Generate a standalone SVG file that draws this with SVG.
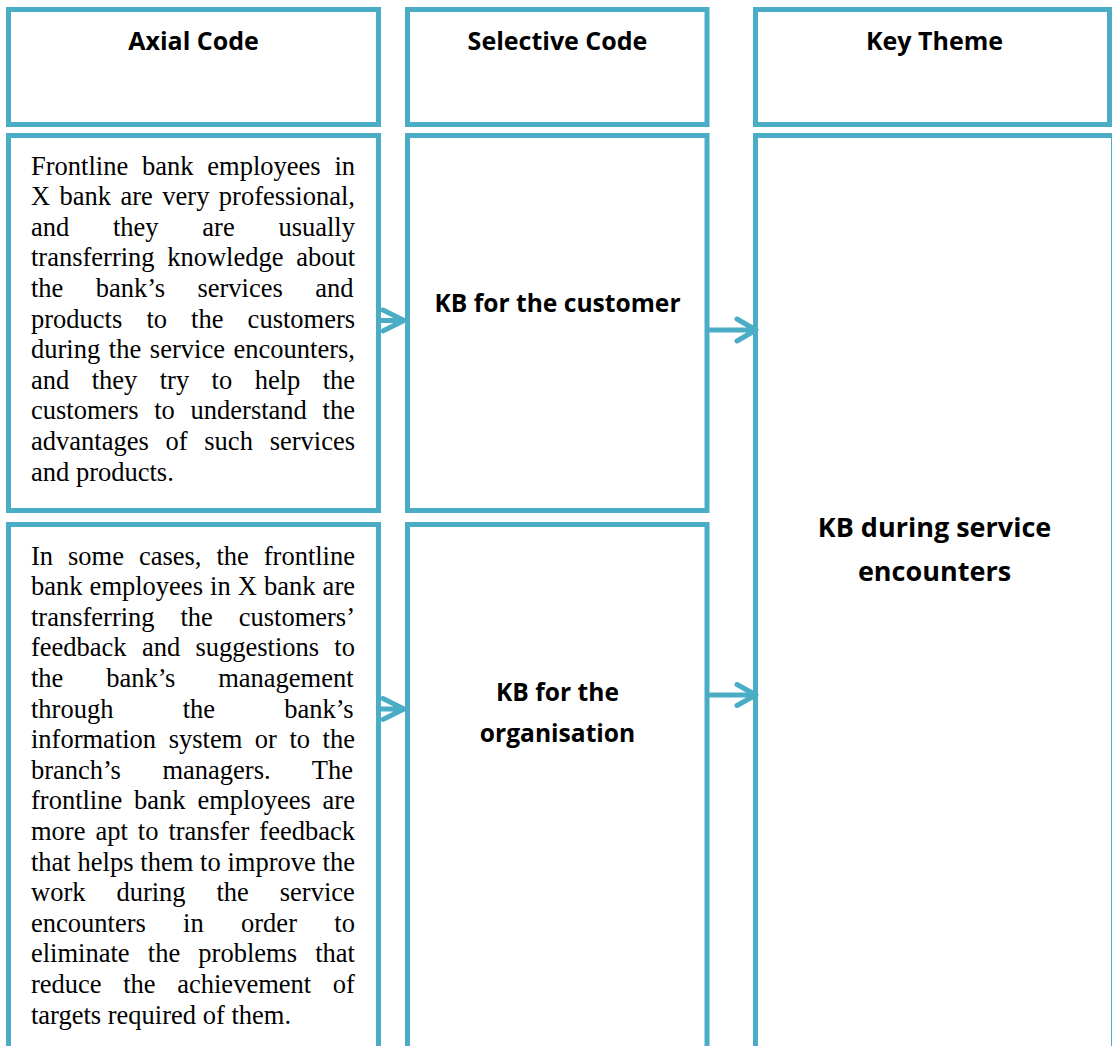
<svg xmlns="http://www.w3.org/2000/svg" width="1112" height="1046" viewBox="0 0 1112 1046">
  <style>
    .box { fill: #ffffff; stroke: #4BACC6; stroke-width: 5; }
    .head { font-family: "Open Sans", "Liberation Sans", sans-serif; font-weight: 700; font-size: 25px; fill: #000; text-anchor: middle; }
    .label { font-family: "Open Sans", "Liberation Sans", sans-serif; font-weight: 700; font-size: 24.6px; fill: #000; text-anchor: middle; }
    .theme { font-family: "Open Sans", "Liberation Sans", sans-serif; font-weight: 700; font-size: 27px; fill: #000; text-anchor: middle; }
    .body { font-family: "Liberation Serif", "Times New Roman", serif; font-size: 26.5px; fill: #000; }
    .arrow { fill: none; stroke: #4BACC6; stroke-width: 5; stroke-linecap: round; stroke-linejoin: round; }
  </style>
  <rect width="1112" height="1046" fill="#ffffff"/>

  <!-- column headers -->
  <g id="head-axial">
    <rect class="box" x="8.5" y="9.5" width="370" height="115"/>
    <text class="head" x="193.5" y="50">Axial Code</text>
  </g>
  <g id="head-selective">
    <rect class="box" x="407.5" y="9.5" width="299.5" height="115"/>
    <text class="head" x="557.5" y="50">Selective Code</text>
  </g>
  <g id="head-theme">
    <rect class="box" x="755.5" y="9.5" width="354" height="115"/>
    <text class="head" x="934.5" y="50">Key Theme</text>
  </g>

  <!-- axial code 1: justified paragraph -->
  <g id="axial-customer">
    <rect class="box" x="8.5" y="135.5" width="370" height="375"/>
    <text class="body" x="31">
      <tspan x="31" y="174.5" word-spacing="7.17">Frontline bank employees in</tspan>
      <tspan x="31" y="205.1" word-spacing="2.81">X bank are very professional,</tspan>
      <tspan x="31" y="235.7" word-spacing="37.1">and they are usually</tspan>
      <tspan x="31" y="266.3" word-spacing="6">transferring knowledge about</tspan>
      <tspan x="31" y="296.9" word-spacing="25.8">the bank’s services and</tspan>
      <tspan x="31" y="327.5" word-spacing="17.5">products to the customers</tspan>
      <tspan x="31" y="358.1" word-spacing="2.03">during the service encounters,</tspan>
      <tspan x="31" y="388.7" word-spacing="15.8">and they try to help the</tspan>
      <tspan x="31" y="419.3" word-spacing="9.13">customers to understand the</tspan>
      <tspan x="31" y="449.9" word-spacing="10.13">advantages of such services</tspan>
      <tspan x="31" y="480.5">and products.</tspan>
    </text>
  </g>

  <!-- axial code 2: justified paragraph -->
  <g id="axial-organisation">
    <rect class="box" x="8.5" y="524.5" width="370" height="540"/>
    <text class="body" x="31">
      <tspan x="31" y="564.5" word-spacing="8.33">In some cases, the frontline</tspan>
      <tspan x="31" y="595.1" word-spacing="0.48">bank employees in X bank are</tspan>
      <tspan x="31" y="625.7" word-spacing="19.24">transferring the customers’</tspan>
      <tspan x="31" y="656.3" word-spacing="8.64">feedback and suggestions to</tspan>
      <tspan x="31" y="686.9" word-spacing="36.2">the bank’s management</tspan>
      <tspan x="31" y="717.5" word-spacing="62.6">through the bank’s</tspan>
      <tspan x="31" y="748.1" word-spacing="5.92">information system or to the</tspan>
      <tspan x="31" y="778.7" word-spacing="35.06">branch’s managers. The</tspan>
      <tspan x="31" y="809.3" word-spacing="5.21">frontline bank employees are</tspan>
      <tspan x="31" y="839.9" word-spacing="3.37">more apt to transfer feedback</tspan>
      <tspan x="31" y="870.5" word-spacing="0.17">that helps them to improve the</tspan>
      <tspan x="31" y="901.1" word-spacing="24.3">work during the service</tspan>
      <tspan x="31" y="931.7" word-spacing="30.7">encounters in order to</tspan>
      <tspan x="31" y="962.3" word-spacing="11.57">eliminate the problems that</tspan>
      <tspan x="31" y="992.9" word-spacing="15">reduce the achievement of</tspan>
      <tspan x="31" y="1023.5">targets required of them.</tspan>
    </text>
  </g>

  <!-- selective codes -->
  <g id="selective-customer">
    <rect class="box" x="407.5" y="135.5" width="299.5" height="375"/>
    <text class="label" x="557.5" y="312">KB for the customer</text>
  </g>
  <g id="selective-organisation">
    <rect class="box" x="407.5" y="524.5" width="299.5" height="540"/>
    <text class="label" x="557.5" y="701">KB for the</text>
    <text class="label" x="557.5" y="742">organisation</text>
  </g>

  <!-- key theme -->
  <g id="theme-service">
    <rect class="box" x="755.5" y="135.5" width="358" height="929"/>
    <text class="theme" x="934.5" y="537">KB during service</text>
    <text class="theme" x="934.5" y="581">encounters</text>
  </g>

  <!-- connectors -->
  <g id="connectors">
    <path class="arrow" d="M381 320.5 H404 M383 310 L404 320.5 L383 331"/>
    <path class="arrow" d="M381 709 H404 M383 698.5 L404 709 L383 719.5"/>
    <path class="arrow" d="M710 330 H756 M737 319 L756 330 L737 341"/>
    <path class="arrow" d="M710 695 H756 M737 684.5 L756 695 L737 705.5"/>
  </g>
</svg>
